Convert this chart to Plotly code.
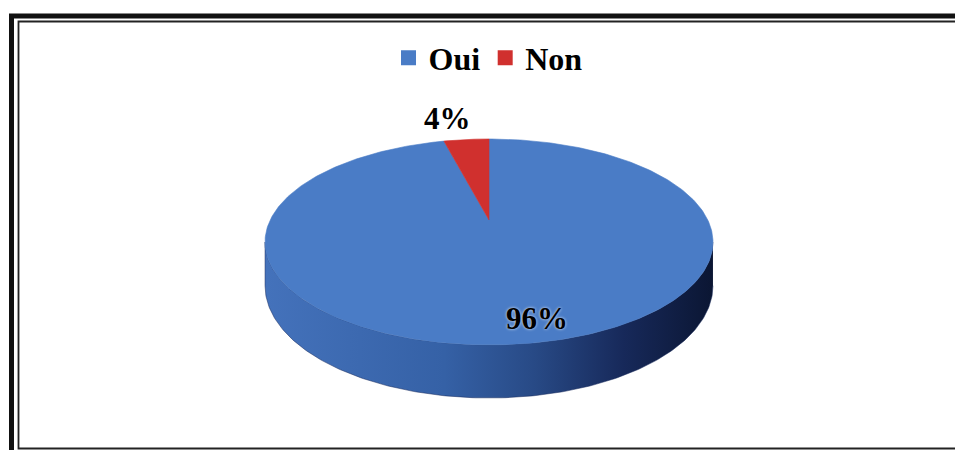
import numpy as np
import plotly.graph_objects as go

# ---------------- data ----------------
labels = ["Oui", "Non"]
values = [96, 4]
top_colors = ["#4a7cc6", "#d0302e"]
side_colorscales = [
    [[0, "#4472bb"], [0.4, "#3561a6"], [0.6, "#284a86"], [0.8, "#17295a"], [1, "#0b1633"]],
    [[0, "#b02020"], [1, "#501010"]],
]
label_texts = [f"{v}%" for v in values]
label_radius = [0.83, 1.34]

# ---------------- geometry (pixel space of a 955x450 canvas) ----------------
W, H = 955, 450
CX, CY = 489, 220          # pie centre
A, B, P = 218.8, 98.3, 0.2135   # horizontal radius, vertical radius, perspective
DEPTH = 41.7               # thickness of the pie


def project(phi, r=1.0):
    X = r * np.sin(phi)
    t = -r * np.cos(phi)
    s = 1.0 / (1.0 - P * t)
    return CX + A * X * s, CY + B * t * s, s


total = float(sum(values))
fracs = np.array(values) / total
starts = np.concatenate([[0.0], np.cumsum(fracs)[:-1]]) * 2 * np.pi
ends = np.cumsum(fracs) * 2 * np.pi

phi_r = np.arccos(-P)
phi_l = 2 * np.pi - phi_r

fig = go.Figure()

# sides (front visible part)
for i, lab in enumerate(labels):
    a0, a1 = max(starts[i], phi_r), min(ends[i], phi_l)
    if a1 <= a0:
        continue
    ph = np.linspace(a0, a1, 200)
    x, y, s = project(ph)
    yb = y + DEPTH * s
    xs = np.concatenate([x, x[::-1]])
    ys = np.concatenate([y, yb[::-1]])
    fig.add_trace(go.Scatter(
        x=xs, y=ys, mode="lines", fill="toself",
        line=dict(width=0.5, color=side_colorscales[i][-2][1]),
        fillgradient=dict(type="horizontal", colorscale=side_colorscales[i]),
        showlegend=False, hoverinfo="skip"))

# top faces
for i, lab in enumerate(labels):
    ph = np.linspace(starts[i], ends[i], max(10, int(400 * fracs[i])))
    x, y, _ = project(ph)
    xs = np.concatenate([[CX], x, [CX]])
    ys = np.concatenate([[CY], y, [CY]])
    fig.add_trace(go.Scatter(
        x=xs, y=ys, mode="lines", fill="toself",
        fillcolor=top_colors[i], line=dict(width=0.6, color=top_colors[i]),
        showlegend=False, name=lab, hoverinfo="skip"))

# legend entries
for i, lab in enumerate(labels):
    fig.add_trace(go.Scatter(
        x=[None], y=[None], mode="markers", name=lab,
        marker=dict(symbol="square", size=15, color=top_colors[i])))

# data labels
shifts = [20, -13]
for i, lab in enumerate(labels):
    mid = (starts[i] + ends[i]) / 2
    lx, ly, _ = project(mid, label_radius[i])
    fig.add_annotation(
        x=float(lx), y=float(ly), text=label_texts[i], showarrow=False,
        xshift=shifts[i],
        font=dict(family="Liberation Serif", size=31, color="black", weight="bold",
                  shadow="0px 0px 3px rgba(255,255,255,0.9)" if i == 0 else "none"))

# frame
fig.add_shape(type="rect", x0=11.5, y0=16, x1=980, y1=470,
              line=dict(color="#111", width=5))
fig.add_shape(type="rect", x0=18.5, y0=21.5, x1=975, y1=448.5,
              line=dict(color="#222", width=1.8))

fig.update_layout(
    width=W, height=H,
    margin=dict(l=0, r=0, t=0, b=0),
    paper_bgcolor="white", plot_bgcolor="white",
    xaxis=dict(range=[0, W], visible=False, fixedrange=True),
    yaxis=dict(range=[H, 0], visible=False, fixedrange=True),
    showlegend=True,
    legend=dict(orientation="h", x=0.511, xanchor="center",
                y=1 - 58 / H, yanchor="middle",
                font=dict(family="Liberation Serif", size=32, color="black", weight="bold"),
                bgcolor="rgba(0,0,0,0)", itemwidth=30),
    hovermode=False,
)

fig.write_html("out.html", config={"displayModeBar": False},
               post_script="document.body.style.margin='0';document.body.style.overflow='hidden';")
